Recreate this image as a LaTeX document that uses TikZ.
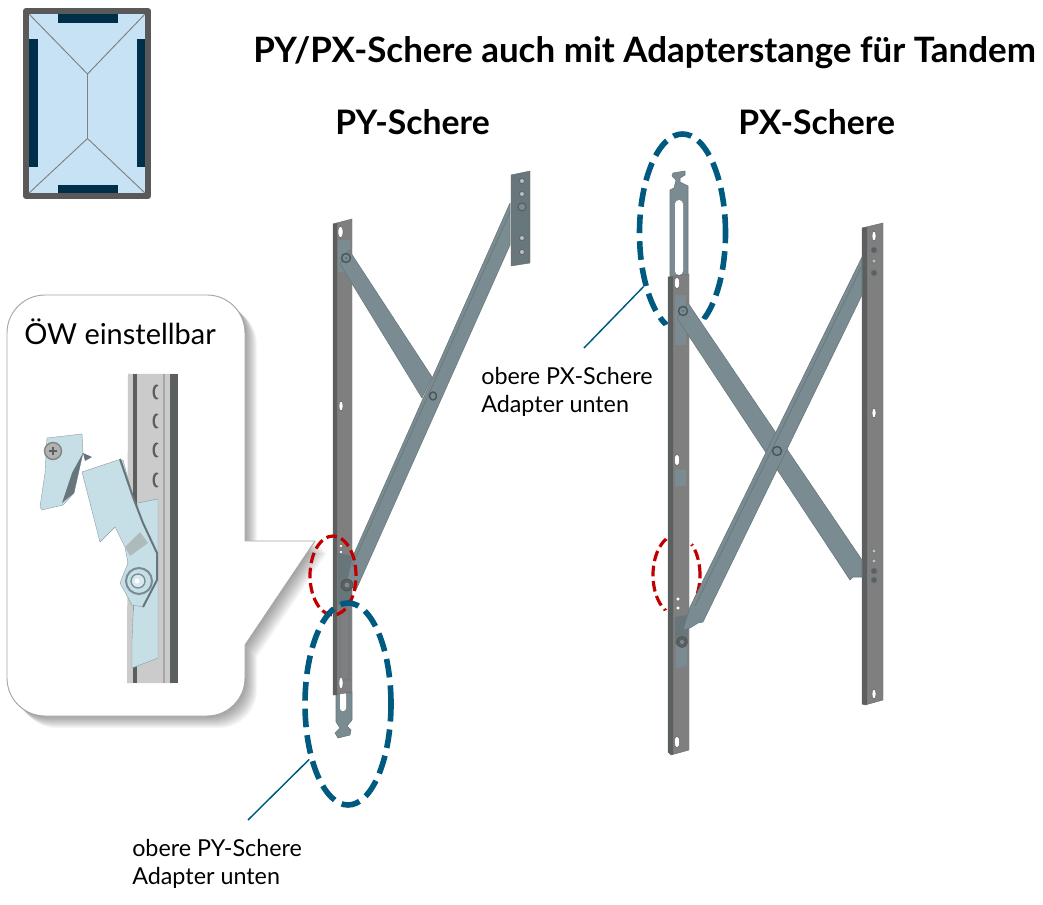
\documentclass[tikz,border=0pt]{standalone}
\usepackage{fontspec}
\setmainfont{Lato}
\usetikzlibrary{shapes.geometric}
\usetikzlibrary{positioning}
\usetikzlibrary{calc}

\definecolor{frameGrey}{HTML}{595959}
\definecolor{glassBlue}{HTML}{C7E2F5}
\definecolor{sealNavy}{HTML}{002F49}
\definecolor{ovalBlue}{HTML}{005A80}
\definecolor{ovalRed}{HTML}{C00000}
\definecolor{barGrey}{HTML}{7F7F7F}
\definecolor{barDark}{HTML}{5C5F60}
\definecolor{armGrey}{HTML}{7A8C91}
\definecolor{armDark}{HTML}{66767A}
\definecolor{paleBlue}{HTML}{C6DFE7}
\definecolor{railGrey}{HTML}{CBCBCB}

\newcommand{\calloutpath}{(245,541) -- (315,541) -- (245,645) -- (245,678) .. controls (245,699) and (228,716) .. (207,716) -- (45,716) .. controls (24,716) and (7,699) .. (7,678) -- (7,333) .. controls (7,312) and (24,295) .. (45,295) -- (207,295) .. controls (228,295) and (245,312) .. (245,333) -- cycle}

\begin{document}
\begin{tikzpicture}[
                x=0.75pt,
                y=-0.75pt,
                titletext/.style={font=\fontsize{26.2}{30}\selectfont\bfseries, inner sep=0pt},
                headtext/.style={font=\fontsize{25.3}{28}\selectfont\bfseries, inner sep=0pt},
                labeltext/.style={font=\fontsize{17.5}{21}\selectfont, align=left, inner sep=0pt},
                blueoval/.style={draw=ovalBlue, ellipse, line width=4.2pt, dash pattern=on 14pt off 6pt, inner sep=0pt},
                redoval/.style={draw=ovalRed, ellipse, line width=2.4pt, dash pattern=on 8pt off 3.5pt, inner sep=0pt},
                leader/.style={draw=ovalBlue, line width=1.1pt},
                bar/.style={fill=barGrey, draw=barGrey!80!black, line width=0.3pt},
                barshade/.style={fill=barDark},
                arm/.style={fill=armGrey, draw=armDark, line width=0.4pt, line join=round},
                pin/.style={fill=armGrey, draw=armDark!70!black, line width=1pt},
                slot/.style={fill=white, draw=barDark, line width=0.3pt},
                pale/.style={fill=paleBlue, draw=paleBlue!70!black, line width=0.3pt, line join=round}
            ]

            \useasboundingbox (0,0) rectangle (1043,905);

            % Window symbol
            \fill[glassBlue] (26,11) rectangle (148,196);
            \fill[sealNavy] (58,14) rectangle (118,23);
            \fill[sealNavy] (58,185) rectangle (118,193);
            \fill[sealNavy] (29,39) rectangle (38,167);
            \fill[sealNavy] (137,39) rectangle (146,167);
            \draw[gray, line width=0.7pt] (28,13) -- (87.5,74) -- (146,13);
            \draw[gray, line width=0.7pt] (87.5,74) -- (87.5,138.5);
            \draw[gray, line width=0.7pt] (28,194) -- (87.5,138.5) -- (146,194);
            \draw[frameGrey, line width=4.5pt, line join=round] (26,11) rectangle (148,196);

            % Headings
            \node[titletext, anchor=base west] (title) at (253,63) {PY/PX-Schere auch mit Adapterstange für Tandem};
            \node[headtext, anchor=base west] (headPY) at (335,135) {PY-Schere};
            \node[headtext, anchor=base west] (headPX) at (738,135) {PX-Schere};

            % Callout with shadow
            \foreach \s in {1,...,12} {
                \fill[black, opacity=0.035, shift={(\s,\s)}] \calloutpath;
            }
            \fill[white, draw=gray!70, line width=0.7pt] \calloutpath;
            \node[labeltext, font=\fontsize{21.7}{24}\selectfont, anchor=base west] (calloutText) at (24,345) {ÖW einstellbar};

            % Rail inside callout
            \fill[railGrey] (128,374) -- (178,374) -- (177,683) -- (127,683) -- cycle;
            \fill[barDark] (133,374) rectangle (137,683);
            \fill[barDark] (170,374) rectangle (178,683);
            \fill[gray!70] (163,374) rectangle (165,683);
            \foreach \y in {392,421,450,480} {
                \fill[barDark] (156.5,\y) ellipse (4 and 7.5);
                \fill[railGrey] (158.5,\y) ellipse (3.5 and 6.5);
            }

            % Parts inside callout
            \fill[pale] (138,503) -- (158,499) -- (158,658) -- (132,668) -- (132,640) -- cycle;
            \fill[pale] (82,472) -- (118,460) -- (123,460) -- (133,497) -- (143,523) -- (157,553) -- (157,580) -- (143,607) -- (132,605) -- (120,583) -- (128,563) -- (125,547) -- (115,527) -- (100,542) -- cycle;
            \draw[armDark, line width=1.5pt, line join=round] (120,459) -- (133,497) -- (143,523) -- (157,553) -- (157,580) -- (143,607);
            \fill[armGrey!60] (125,547) -- (140,532) -- (148,543) -- (130,556) -- cycle;
            \draw[armGrey, line width=1.5pt, fill=paleBlue] (139,581) circle (13);
            \draw[armGrey, fill=paleBlue!70!white, line width=1pt] (138,581) circle (7);
            \fill[white] (137,581) circle (2.5);
            \fill[armDark] (83,453) -- (92,457) -- (85,461) -- cycle;
            \fill[pale] (47,438) -- (82,434) -- (83,453) -- (74,493) -- (63,505) -- (42,510) -- (40,507) -- (45,473) -- cycle;
            \fill[armDark] (83,453) -- (72,473) -- (62,503) -- (74,493) -- cycle;
            \draw[barGrey, fill=barGrey!60, line width=1pt] (53,451) circle (8.5);
            \draw[barDark, line width=1pt] (49,451) -- (57,451) (53,447) -- (53,455);

            % PX ovals lie behind the hardware
            \node[blueoval, minimum width=64.5pt, minimum height=148.5pt] (pxOval) at (682.5,233) {};
            \node[redoval, minimum width=35.25pt, minimum height=60pt] (pxMark) at (676.5,575) {};
            % Picture background hides parts of them
            \fill[white] (660,328) -- (680,318) -- (710,320) -- (715,340) -- (660,340) -- cycle;
            \fill[white] (660,530) -- (666,539) -- (691,545) -- (705,530) -- cycle;
            \fill[white] (660,613) -- (694,598) -- (705,620) -- (660,625) -- cycle;

            % PY hardware
            \fill[armGrey, draw=armDark, line width=0.4pt] (336,692) -- (352,692) -- (352,720) -- (347,726) -- (351,730) -- (350,735) -- (338,738) -- (335,733) -- (340,728) -- (336,722) -- cycle;
            \fill[white, rounded corners=2pt] (340,692) rectangle (346,711);
            \fill[bar] (333,224) -- (352,219) -- (352,692) -- (333,695) -- cycle;
            \fill[barshade] (333,224) -- (337,223) -- (337,695) -- (333,695) -- cycle;
            \fill[barDark!80] (347,222) rectangle (352,692);
            \fill[armGrey] (338,240) rectangle (350,272);
            \fill[armDark] (338,553) -- (351,556) -- (352,600) -- (338,605) -- cycle;
            \draw[armDark, fill=barGrey] (340,608) .. controls (340,604) and (348,604) .. (349,612) -- (349,680) -- (340,680) -- cycle;
            \fill[slot] (340.5,232) ellipse (2.5 and 6);
            \fill[slot] (341,406) ellipse (2 and 5);
            \fill[slot] (341,546) circle (1.8);
            \fill[slot] (341,552) circle (1.8);
            \fill[slot] (341,683) ellipse (2 and 6);

            \fill[arm] (349,250) -- (432,377) -- (422,398) -- (340,264) -- cycle;
            \fill[arm] (510,203) -- (510,245) -- (356,590) -- (346,584) -- (353,556) -- cycle;
            \draw[armDark, line width=0.5pt] (510,212) -- (352,566);
            \fill[bar, fill=armGrey!85!black] (511,175) -- (530,171) -- (530,263) -- (511,266) -- cycle;
            \foreach \y in {181,194,238,252} {
                \draw[barDark, fill=barGrey!50, line width=0.5pt] (522,\y) circle (2.5);
            }
            \draw[barDark, fill=armGrey, line width=0.9pt] (522,207) circle (4);
            \draw[pin] (346,258) circle (4.5);
            \fill[armDark] (346,258) circle (1.5);
            \draw[pin] (433,396) ellipse (3.5 and 4);
            \fill[barDark, draw=black!70] (347,585) circle (6);
            \fill[armGrey] (347,585) circle (2.5);

            % PX hardware
            \fill[armGrey, draw=armDark, line width=0.4pt] (670,190) -- (674,188) -- (676,180) -- (672,176) -- (673,173) -- (685,171) -- (685,175) -- (680,178) -- (680,182) -- (688,186) -- (688,277) -- (670,277) -- cycle;
            \fill[white, rounded corners=3pt] (675,200) rectangle (683,275);
            \fill[bar] (668,277) -- (689,274) -- (689,750) -- (671,755) -- (668,752) -- cycle;
            \fill[barshade] (668,277) -- (673,277) -- (673,755) -- (668,752) -- cycle;
            \fill[barDark!80] (685,276) rectangle (689,750);
            \fill[armGrey] (675,295) rectangle (686,345);
            \fill[armGrey] (675,470) rectangle (686,486);
            \fill[armDark] (675,617) -- (688,615) -- (688,640) -- (675,645) -- cycle;
            \fill[armGrey] (676,645) -- (687,642) -- (687,665) -- (676,669) -- cycle;
            \foreach \y in {283,460,742} {
                \fill[slot] (677,\y) ellipse (2.5 and 6);
            }
            \fill[slot] (678,599) circle (2);
            \fill[slot] (678,608) circle (2);

            \fill[bar] (862,228) -- (883,223) -- (883,700) -- (865,705) -- (862,704) -- cycle;
            \fill[barshade] (862,228) -- (867,227) -- (867,705) -- (862,704) -- cycle;
            \foreach \y in {236,413,694} {
                \fill[slot] (874,\y) ellipse (2 and 5);
            }
            \foreach \y in {250,273,571,580} {
                \draw[armDark, fill=barDark, line width=0.5pt] (874,\y) circle (3);
            }
            \foreach \y in {261,551,561} {
                \draw[armDark, fill=barGrey!50, line width=0.5pt] (874,\y) circle (2);
            }

            \fill[arm] (688,303) -- (862,560) -- (862,577) -- (853,577) -- (850,580) -- (677,318) -- cycle;
            \fill[arm] (862,257) -- (862,295) -- (703,622) -- (698,623) -- (690,628) -- (683,630) -- (690,607) -- cycle;
            \draw[armDark, line width=0.5pt] (862,266) -- (695,606);
            \draw[pin] (683,311) circle (4.5);
            \fill[armDark] (683,311) circle (1.5);
            \draw[pin] (777,451) circle (4.5);
            \fill[barDark, draw=black!70] (682,642) circle (5.5);
            \fill[armGrey] (682,642) circle (2);

            % PY ovals lie over the hardware
            \node[redoval, minimum width=34.5pt, minimum height=59.25pt] (pyMark) at (333,575.5) {};
            \node[blueoval, minimum width=64.5pt, minimum height=151.5pt] (pyOval) at (348,704) {};

            % Leader lines and their labels
            \coordinate (pyLeadEnd) at (248,820);
            \coordinate (pxLeadEnd) at (584,348);
            \draw[leader] (pyLeadEnd) -- (pyOval.235);
            \draw[leader] (pxLeadEnd) -- (pxOval.234);
            \node[labeltext, anchor=north west] (pyLabel) at (132,839) {obere PY-Schere\\Adapter unten};
            \node[labeltext, anchor=north west] (pxLabel) at (481,367) {obere PX-Schere\\Adapter unten};

        \end{tikzpicture}
\end{document}
